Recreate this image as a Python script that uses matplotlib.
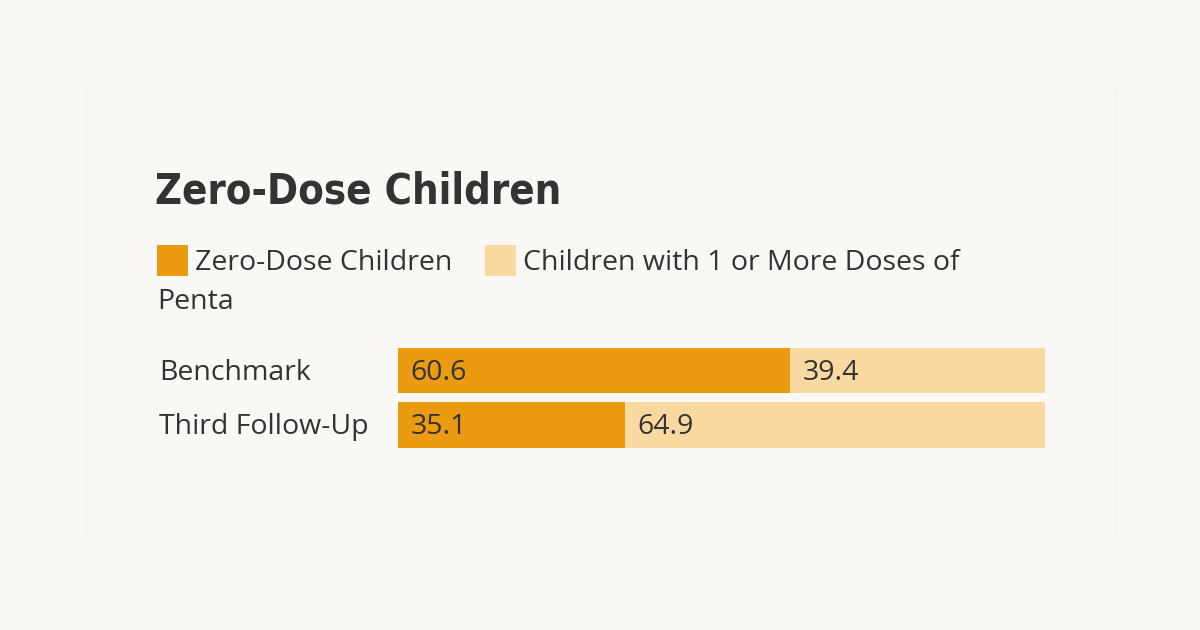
import matplotlib
matplotlib.use("Agg")
import matplotlib.pyplot as plt
from matplotlib import font_manager
from matplotlib.patches import Rectangle

# Data
categories = ["Benchmark", "Third Follow-Up"]
zero_dose = [60.6, 35.1]
one_or_more = [39.4, 64.9]
series_names = ["Zero-Dose Children", "Children with 1 or More Doses of\nPenta"]
title = "Zero-Dose Children"

DARK = "#EA9B10"
LIGHT = "#F9D9A0"
TEXT = "#333333"
BG = "#F8F7F4"
PANEL = "#F9F8F5"

W, H = 1200, 630

# pick a condensed bold face for the title if one is installed
title_font = None
for f in font_manager.fontManager.ttflist:
    if "condensed" in f.name.lower() or "condensed" in str(f.stretch).lower():
        if f.weight in ("bold", 700) or "bold" in f.fname.lower():
            title_font = f.fname
            break
body = "Open Sans"
FS = 20.5


def px(x, y):
    return x / W, 1 - y / H


fig = plt.figure(figsize=(12, 6.3), dpi=100)
fig.patch.set_facecolor(BG)
fig.patches.append(Rectangle(px(86, 540), (1114 - 86) / W, (540 - 88) / H,
                             transform=fig.transFigure, facecolor=PANEL,
                             edgecolor="#F6F4F0", linewidth=0.8, zorder=-5))

# title
if title_font:
    tprop = font_manager.FontProperties(fname=title_font, size=30)
    fig.text(*px(155, 203), title, fontproperties=tprop, color=TEXT, va="baseline")
else:
    fig.text(*px(155, 203), title, family="DejaVu Sans", weight="bold",
             stretch="condensed", size=30, color=TEXT, va="baseline")

# legend
fig.patches.append(Rectangle(px(157, 276), 31 / W, 31 / H, transform=fig.transFigure,
                             facecolor=DARK, edgecolor="none"))
fig.text(*px(195, 270), series_names[0], family=body, size=FS, color=TEXT, va="baseline")
fig.patches.append(Rectangle(px(485, 276), 31 / W, 31 / H, transform=fig.transFigure,
                             facecolor=LIGHT, edgecolor="none"))
lines = series_names[1].split("\n")
fig.text(*px(523, 270), lines[0], family=body, size=FS, color=TEXT, va="baseline")
fig.text(*px(157, 309), lines[1], family=body, size=FS, color=TEXT, va="baseline")

# bars
ax = fig.add_axes([398 / W, 1 - 447.5 / H, 647 / W, 100 / H], zorder=2)
ax.set_facecolor("none")
ypos = list(range(len(categories)))
bh = 45 / 54
ax.barh(ypos, zero_dose, height=bh, color=DARK, linewidth=0)
ax.barh(ypos, one_or_more, left=zero_dose, height=bh, color=LIGHT, linewidth=0)
ax.set_xlim(0, 100)
ax.set_ylim(len(categories) - 1 + bh / 2, -bh / 2)
for s in ax.spines.values():
    s.set_visible(False)
ax.set_xticks([])
ax.set_yticks([])

base = 9.5 / 54  # baseline offset below bar centre
for i, cat in enumerate(categories):
    ax.text(-0.3694, i + base, cat, transform=ax.get_yaxis_transform(), family=body,
            size=FS, color=TEXT, va="baseline", ha="left")
    ax.text(1.9, i + base, f"{zero_dose[i]:.1f}", family=body, size=FS, color=TEXT,
            va="baseline", ha="left")
    ax.text(zero_dose[i] + 1.9, i + base, f"{one_or_more[i]:.1f}", family=body, size=FS,
            color=TEXT, va="baseline", ha="left")

fig.savefig("out.png", dpi=100, facecolor=BG)
